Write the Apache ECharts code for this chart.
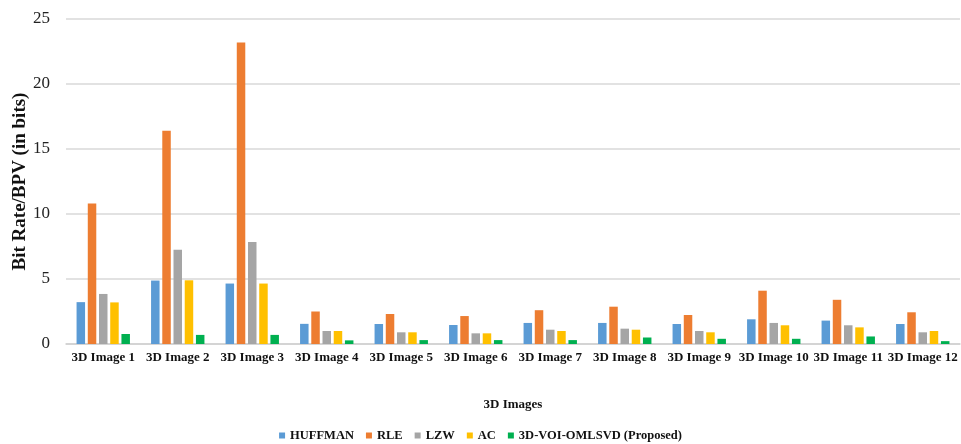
<!DOCTYPE html>
<html lang="en">
<head>
<meta charset="UTF-8">
<title>Bit Rate/BPV</title>
<script src="https://cdn.jsdelivr.net/npm/echarts@6/dist/echarts.min.js"></script>
<style>
  html, body { margin: 0; padding: 0; background: #fff; }
  #chart { width: 961px; height: 444px; }
</style>
</head>
<body>
<div id="chart"></div>
<script>
    var categories = ['3D Image 1', '3D Image 2', '3D Image 3', '3D Image 4', '3D Image 5', '3D Image 6',
        '3D Image 7', '3D Image 8', '3D Image 9', '3D Image 10', '3D Image 11', '3D Image 12'];
    var huffman  = [3.22, 4.88, 4.65, 1.55, 1.54, 1.46, 1.62, 1.62, 1.54, 1.9, 1.8, 1.54];
    var rle      = [10.8, 16.4, 23.2, 2.5, 2.31, 2.15, 2.6, 2.87, 2.23, 4.1, 3.4, 2.44];
    var lzw      = [3.85, 7.25, 7.85, 1.0, 0.9, 0.82, 1.1, 1.18, 1.0, 1.62, 1.44, 0.9];
    var ac       = [3.2, 4.9, 4.65, 1.0, 0.9, 0.82, 1.0, 1.1, 0.9, 1.44, 1.28, 1.0];
    var proposed = [0.77, 0.7, 0.7, 0.28, 0.3, 0.3, 0.3, 0.5, 0.4, 0.4, 0.58, 0.22];
    var yTicks = [0, 5, 10, 15, 20, 25];

    var font = '"Liberation Serif", "DejaVu Serif", serif';
    var chart = echarts.init(document.getElementById('chart'));

    function bar(name, data, color) {
        return {
            name: name,
            type: 'bar',
            data: data,
            barWidth: 8.5,
            barGap: '32%',
            itemStyle: { color: color }
        };
    }

    chart.setOption({
        animation: false,
        textStyle: { fontFamily: font },
        grid: { left: 66, right: 1, top: 19, bottom: 100, outerBoundsMode: 'none' },
        legend: {
            top: 424,
            left: 'center',
            itemWidth: 6,
            itemHeight: 6,
            itemGap: 12,
            icon: 'rect',
            textStyle: { fontFamily: font, fontWeight: 'bold', fontSize: 12.5, color: '#111' },
            data: ['HUFFMAN', 'RLE', 'LZW', 'AC', '3D-VOI-OMLSVD (Proposed)']
        },
        xAxis: {
            type: 'category',
            data: categories,
            name: '3D Images',
            nameLocation: 'middle',
            nameGap: 54,
            nameMoveOverlap: false,
            nameTextStyle: { fontFamily: font, fontWeight: 'bold', fontSize: 13, color: '#111' },
            axisTick: { show: false },
            axisLine: { lineStyle: { color: '#d0d0d0', width: 1.5 } },
            axisLabel: { fontFamily: font, fontWeight: 'bold', fontSize: 13, color: '#111', margin: 7, interval: 0 }
        },
        yAxis: {
            type: 'value',
            min: yTicks[0],
            max: yTicks[yTicks.length - 1],
            interval: 5,
            name: 'Bit Rate/BPV (in bits)',
            nameLocation: 'middle',
            nameGap: 36,
            nameMoveOverlap: false,
            nameTextStyle: { fontFamily: font, fontWeight: 'bold', fontSize: 19, color: '#111' },
            axisLabel: { fontFamily: font, fontSize: 17, color: '#222', margin: 16 },
            splitLine: { lineStyle: { color: '#d9d9d9', width: 1.5 } }
        },
        series: [
            bar('HUFFMAN', huffman, '#5B9BD5'),
            bar('RLE', rle, '#ED7D31'),
            bar('LZW', lzw, '#A5A5A5'),
            bar('AC', ac, '#FFC000'),
            bar('3D-VOI-OMLSVD (Proposed)', proposed, '#00B050')
        ]
    });
</script>
</body>
</html>
